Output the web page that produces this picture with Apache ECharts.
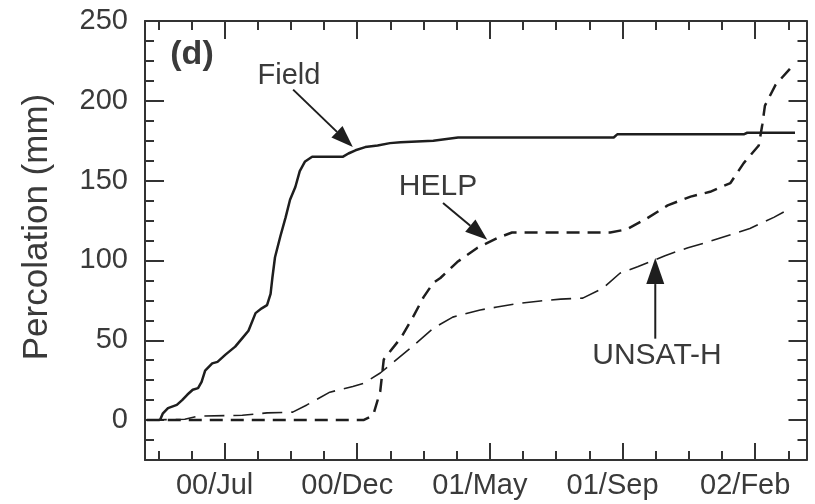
<!DOCTYPE html>
<html>
<head>
<meta charset="utf-8">
<script src="https://cdn.jsdelivr.net/npm/echarts@6/dist/echarts.min.js"></script>
<style>
html,body{margin:0;padding:0;background:#fff;}
#chart{width:815px;height:504px;}
</style>
</head>
<body>
<div id="chart"></div>
<script>
// x values are days counted from the 00/Jul tick (ticks every 150 days)
const tickDays = [0, 150, 300, 450, 600];
const tickLabels = ['00/Jul', '00/Dec', '01/May', '01/Sep', '02/Feb'];
const minorDays = [-75, -37.5, 37.5, 75, 112.5, 187.5, 225, 262.5, 337.5, 375, 412.5, 487.5, 525, 562.5, 637.5];
const yMajor = [0, 50, 100, 150, 200, 250];
const yMinor = [-12.5, 12.5, 25, 37.5, 62.5, 75, 87.5, 112.5, 125, 137.5, 162.5, 175, 187.5, 212.5, 225, 237.5];
const yTitle = 'Percolation (mm)';

const fieldDays = [-73, -70, -64, -54, -48, -42, -36, -30, -26, -22, -14, -8, 1, 12, 21, 27, 35, 42, 48, 52, 54, 57, 63, 69, 74, 80, 85, 91, 99, 134, 140, 148, 159, 173, 187, 199, 236, 264, 440, 444, 587, 591, 645];
const fieldVals = [0, 4, 7.5, 9.5, 12.5, 16, 19, 20, 24, 31, 35.5, 36.5, 41, 46, 52, 56, 67, 70, 72, 79, 89, 102, 115, 127, 138, 146, 156, 162, 165, 165, 167, 169, 171, 172, 173.5, 174, 175, 177, 177, 179, 179, 180, 180];

const helpDays = [-88, 157, 168, 176, 180, 200, 213, 225, 236, 244, 263, 286, 308, 325, 436, 455, 478, 501, 527, 549, 572, 587, 604, 608, 611, 623, 640, 645];
const helpVals = [0, 0, 3, 18, 38, 52, 64.5, 77, 86, 89, 99, 108, 114, 117.5, 117.5, 119.5, 126.5, 134.5, 140, 143, 148.5, 161, 172, 185, 197, 210, 220.5, 223];

const unsatDays = [-88, -45, -30, 20, 48, 77, 93, 119, 145, 157, 176, 210, 236, 258, 289, 308, 331, 357, 380, 405, 428, 447, 467, 485, 498, 524, 546, 564, 594, 621, 636];
const unsatVals = [0, 0.5, 2.5, 3, 4.5, 5, 9.5, 17.5, 21, 23, 29.5, 45, 57.5, 64.5, 69, 70.8, 73, 74.6, 75.8, 76.4, 82.7, 92, 96, 100, 103, 108, 111.5, 114.7, 120, 127, 131.5];

// annotation arrows: [tail, tip] in data coordinates
const arrowField = [[77.5, 207], [145, 171]];
const arrowHelp = [[247, 136], [297, 113]];
const arrowUnsat = [[487, 51], [487, 101.5]];

const zip = (xs, ys) => xs.map((x, i) => [x, ys[i]]);

const FONT = 'Liberation Sans';
const TXT = '#3a3a3a';
const INK = '#1e1e1e';
const XMIN = -90, XMAX = 658, YMIN = -25, YMAX = 250;

function xAx(pos, custom, len, showLine, showLabel) {
  return {
    type: 'value', position: pos, min: XMIN, max: XMAX, offset: 0,
    axisLine: {show: showLine, onZero: false, lineStyle: {color: '#333', width: 2}},
    axisTick: {show: true, inside: true, length: len, customValues: custom, lineStyle: {color: '#333', width: 2}},
    axisLabel: showLabel ? {
      show: true, customValues: tickDays, margin: 11, color: TXT, fontFamily: FONT, fontSize: 29,
      padding: [0, 20, 0, 0],
      formatter: v => tickLabels[tickDays.indexOf(v)]
    } : {show: false},
    splitLine: {show: false}
  };
}
function yAx(pos, custom, len, showLine, showLabel) {
  return {
    type: 'value', position: pos, min: YMIN, max: YMAX, offset: 0,
    axisLine: {show: showLine, onZero: false, lineStyle: {color: '#333', width: 2}},
    axisTick: {show: true, inside: true, length: len, customValues: custom, lineStyle: {color: '#333', width: 2}},
    axisLabel: showLabel ? {
      show: true, customValues: yMajor, margin: 17, color: TXT, fontFamily: FONT, fontSize: 29
    } : {show: false},
    splitLine: {show: false}
  };
}

const chart = echarts.init(document.getElementById('chart'), null, {renderer: 'canvas'});
chart.setOption({
  animation: false,
  backgroundColor: '#fff',
  grid: {left: 145, top: 21, right: 8.5, bottom: 44, containLabel: false},
  xAxis: [
    xAx('bottom', tickDays, 17, true, true),
    xAx('bottom', minorDays, 9, false, false),
    xAx('top', tickDays, 18, true, false),
    xAx('top', minorDays, 9, false, false)
  ],
  yAxis: [
    yAx('left', yMajor, 19, true, true),
    yAx('left', yMinor, 9, false, false),
    yAx('right', yMajor, 18, true, false),
    yAx('right', yMinor, 9, false, false)
  ],
  series: [
    {name: 'Field', type: 'line', data: zip(fieldDays, fieldVals), showSymbol: false,
      lineStyle: {color: INK, width: 2.5}},
    {name: 'HELP', type: 'line', data: zip(helpDays, helpVals), showSymbol: false,
      lineStyle: {color: INK, width: 2.5, type: [13, 8]}},
    {name: 'UNSAT-H', type: 'line', data: zip(unsatDays, unsatVals), showSymbol: false,
      lineStyle: {color: INK, width: 1.6, type: [20, 9]}}
  ]
});

function arrow(a, headLen, headW) {
  const p0 = chart.convertToPixel({xAxisIndex: 0, yAxisIndex: 0}, a[0]);
  const p1 = chart.convertToPixel({xAxisIndex: 0, yAxisIndex: 0}, a[1]);
  const dx = p1[0] - p0[0], dy = p1[1] - p0[1];
  const L = Math.hypot(dx, dy), ux = dx / L, uy = dy / L;
  const bx = p1[0] - ux * headLen, by = p1[1] - uy * headLen;
  const nx = -uy * headW / 2, ny = ux * headW / 2;
  return [
    {type: 'line', shape: {x1: p0[0], y1: p0[1], x2: bx, y2: by}, style: {stroke: INK, lineWidth: 2}},
    {type: 'polygon', shape: {points: [[p1[0], p1[1]], [bx + nx, by + ny], [bx - nx, by - ny]]}, style: {fill: INK}}
  ];
}

const txt = (s, x, y, size, bold, rot) => ({
  type: 'text', x: x, y: y, rotation: rot || 0,
  style: {text: s, fill: TXT, font: (bold ? 'bold ' : '') + size + 'px "' + FONT + '"', textAlign: 'center', textVerticalAlign: 'middle'}
});

chart.setOption({
  graphic: [].concat(
    arrow(arrowField, 22, 16),
    arrow(arrowHelp, 22, 16),
    arrow(arrowUnsat, 26, 18),
    [
      txt(yTitle, 37, 227, 35, false, Math.PI / 2),
      txt('(d)', 192, 55, 34, true),
      txt('Field', 289, 76, 29, false),
      txt('HELP', 438, 187, 30, false),
      txt('UNSAT-H', 657, 356, 30, false)
    ]
  )
});
</script>
</body>
</html>
